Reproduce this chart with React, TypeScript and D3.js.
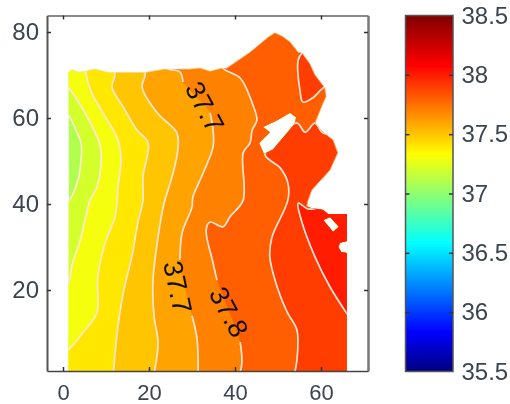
import React, { useEffect, useRef } from 'react';
import * as d3 from 'd3';

type Pt = [number, number] | null;

// outline of the sampled area, x / y in axis units
const domainOutline: Pt[] = [
  [1.3, 1], [1.3, 70.7], [2.1, 71.3], [3.5, 70.7], [5.3, 70.9], [7.4, 71.4], [10.5, 70.6], [19.1, 70.6],
  [23.7, 71.4], [29.5, 71.4], [31.9, 71.6], [34.2, 70.9], [37, 71.6], [38.1, 71.6], [43.5, 75.3], [47.7, 78.8],
  [49.3, 79.8], [51, 79], [52.8, 77.7], [54.7, 75.3], [55.6, 75.1], [57.4, 72.6], [58.6, 70], [60.9, 67], [61.2, 65], [60.5, 63.5], [58.6, 58.8],
  [60.5, 56.7], [62.8, 54.9], [63.9, 51.9], [62.1, 47.9], [60, 45.6], [57.9, 43.3], [57, 40.9], [56.7, 39.5], [57.4, 39.1],
  [60.5, 38.6], [61.6, 37.7], [66, 37.7], [66, 31.4], [64.4, 31], [64, 30], [64.7, 28.8], [66, 28.6], [66, 1],
];
const lakeHole: Pt[] = [
  [54.2, 60.2], [52.8, 61.2], [49.8, 59.5], [46.5, 57.9], [48.1, 56.7], [47, 55.6], [45.6, 54.2], [46.7, 51.6],
  [48.8, 52.6], [52.1, 56.5], [54, 58.8],
];
const diamondHole: Pt[] = [[60.5, 36.3], [62.1, 37], [64.2, 34.7], [62.8, 33.5]];

const baseLevel = 37.1;
const levels = [37.2, 37.3, 37.4, 37.5, 37.6, 37.7, 37.8, 37.9, 38];

// contour lines, null = gap where a label sits
const contour372: Pt[] = [[-0.7, 61.9], [1.2, 60.7], [3, 57.2], [4.2, 54.2], [4.2, 50.2], [3.5, 45.6], [1.4, 40.9], [-0.7, 39.8]];
const contour373: Pt[] = [
  [-0.7, 68.8], [1.2, 67.2], [4.7, 61.9], [8.6, 53.7], [8.8, 48.6], [7.9, 44], [6.3, 40.9], [5.3, 37], [4, 31.6],
  [2.1, 25.8], [1.2, 21.2], [-0.7, 18.8],
];
const contour374: Pt[] = [
  [5.3, 73.5], [5.3, 70.7], [6.7, 65.8], [9.3, 61.2], [12.8, 54.9], [13.5, 50.2], [12.8, 44], [12.6, 40.9],
  [12.1, 37], [9.8, 30.9], [8.1, 23], [7.9, 14.7], [4.7, 10.2], [1.2, 6], [-0.7, 4.7],
];
const contour375: Pt[] = [
  [12.1, 73.5], [12.1, 70], [11.4, 67.2], [14, 62.6], [17.2, 57.2], [19.8, 54.2], [18.6, 46.3], [18.6, 40.9],
  [17.4, 35.6], [16, 27.7], [14, 19.3], [12.6, 10], [11.6, -0.9],
];
const contour376: Pt[] = [
  [19.1, 73.5], [19.1, 70], [18.4, 67.2], [21.9, 61.2], [26.5, 56.5], [26.7, 52.6], [25.6, 47.2], [23.7, 40.9],
  [23.3, 39.3], [21.9, 30.9], [20.9, 21.6], [21.2, 13.7], [22.1, 7.7], [20.9, -0.9],
];
const contour377: Pt[] = [
  [24.2, 73.5], [24.2, 71.6], [27.2, 70.7], [27.9, 68.4], null, [34.2, 61.2], [34.9, 57.2], [34.9, 53.3],
  [32.6, 47.2], [30.2, 41.6], [30, 39.3], [27.7, 33.3], [27.2, 27], null, [30, 14], [31.2, 8.4], [31.4, -0.9],
];
const contour378: Pt[] = [
  [37.2, 73.5], [37.2, 71.6], [41.2, 69.3], [44, 63.5], [45.1, 59.5], [44, 57.2], [43.5, 54.2], [41.9, 51.9],
  [41.9, 40.9], [38.8, 37], [37.2, 34.7], [34.2, 35.8], [33.3, 34], [34.9, 26.3], [35.8, 22.3], null,
  [41.2, 7.9], [41.6, 3], [40.7, -0.9],
];
const contour379: Pt[] = [
  [65.6, 56.3], [60.5, 56.5], [58.6, 58.8], [56.3, 56.7], [54.4, 58.8], [49.3, 54.9], [47, 51.4], [50.5, 48.4],
  [52.3, 44.9], [52.3, 40.9], [48.6, 32.3], [48.1, 27.7], [49.8, 20.7], [52.1, 14.9], [54.4, 10.7], [54.4, 3.7],
  [53.5, -0.9],
];
const contour380: Pt[] = [
  [69.1, 43.3], [57.4, 38.8], [54.7, 40.2], [55.3, 36.7], [58.6, 27.7], [62.1, 20.7], [66.7, 13.5],
];
// small closed patch in the north
const patch379: Pt[] = [
  [64.4, 78.1], [55.6, 75.1], [54.7, 73.5], [55.1, 66.5], [55.8, 63.7], [58.1, 64.7], [60.5, 67], [64.4, 68.8],
];
const contours = [contour372, contour373, contour374, contour375, contour376, contour377, contour378, contour379, contour380];

const labelText = ['37.7', '37.7', '37.8'];
const labelX = [33, 26.7, 38.6];
const labelY = [62.6, 20.7, 14.9];
const labelAngle = [62, 78, 62];

const xTicks = [0, 20, 40, 60];
const yTicks = [20, 40, 60, 80];
const barLabels = [35.5, 36, 36.5, 37, 37.5, 38, 38.5];
const barMarks = [36, 36.5, 37, 37.5, 38];

// jet colormap
const jetStops = [0, 0.11, 0.36, 0.61, 0.86, 1];
const jetColors = ['#000080', '#0000ff', '#00ffff', '#ffff00', '#ff0000', '#800000'];

const FONT = '"Liberation Sans", Arial, sans-serif';
const TEXT = '#3b4450';

const App = () => {
  const ref = useRef<SVGSVGElement>(null);

  useEffect(() => {
    const svg = d3.select(ref.current);
    svg.selectAll('*').remove();

    const left = 47, right = 368, top = 15.5, bottom = 371;
    const barLeft = 405.5, barRight = 453;

    const x = d3.scaleLinear().domain([0, 60]).range([63, 321]);
    const y = d3.scaleLinear().domain([20, 80]).range([290, 32]);
    const bar = d3.scaleLinear().domain([35.5, 38.5]).range([371.5, 15.5]);
    const jet = d3.scaleLinear<string>().domain(jetStops).range(jetColors);
    const colorOf = (v: number) => jet((v - 35.5) / 3);

    const line = d3.line<Pt>().defined((d) => d !== null).x((d) => x(d![0])).y((d) => y(d![1]));
    const smooth = d3.line<Pt>().defined((d) => d !== null).x((d) => x(d![0])).y((d) => y(d![1])).curve(d3.curveCatmullRom.alpha(0.5));
    const solid = (pts: Pt[]) => pts.filter((d) => d !== null);
    const ring = (pts: Pt[]) => line(pts) + 'Z';

    const defs = svg.append('defs');
    defs
      .append('clipPath')
      .attr('id', 'area')
      .append('path')
      .attr('clip-rule', 'evenodd')
      .attr('d', ring(domainOutline) + ring(lakeHole) + ring(diamondHole));
    const grad = defs
      .append('linearGradient')
      .attr('id', 'jet')
      .attr('x1', 0)
      .attr('y1', 1)
      .attr('x2', 0)
      .attr('y2', 0);
    jetStops.forEach((s, i) => {
      grad.append('stop').attr('offset', s).attr('stop-color', jetColors[i]);
    });
    const soft = defs
      .append('filter')
      .attr('id', 'soft')
      .attr('filterUnits', 'userSpaceOnUse')
      .attr('x', 0)
      .attr('y', 0)
      .attr('width', 510)
      .attr('height', 404);
    soft.append('feGaussianBlur').attr('stdDeviation', 0.45);

    const root = svg.append('g').attr('filter', 'url(#soft)');
    const map = root.append('g').attr('clip-path', 'url(#area)');

    map.append('path').attr('d', ring(domainOutline)).attr('fill', colorOf(baseLevel));

    // each band paints everything to the right of its contour
    const bottomY = -10, topY = 100, farX = 90;
    contours.forEach((c, i) => {
      const pts = solid(c) as [number, number][];
      const first = pts[0];
      const last = pts[pts.length - 1];
      const edge = smooth(pts) as string;
      const corners: Pt[] = [[last[0], bottomY], [farX, bottomY], [farX, topY], [first[0], topY]];
      map.append('path').attr('d', edge + 'L' + (line(corners) as string).slice(1) + 'Z').attr('fill', colorOf(levels[i]));
    });
    map.append('path').attr('d', smooth(patch379) + 'Z').attr('fill', colorOf(37.9));

    [...contours, patch379].forEach((c) => {
      map
        .append('path')
        .attr('d', smooth(c))
        .attr('fill', 'none')
        .attr('stroke', '#ffe6d8')
        .attr('stroke-width', 1.7);
    });

    // pale rim where the field meets the white page
    root
      .append('path')
      .attr('d', line(domainOutline.slice(1, 35)))
      .attr('fill', 'none')
      .attr('stroke', '#ffdcc8')
      .attr('stroke-opacity', 0.6)
      .attr('stroke-width', 1);

    labelText.forEach((t, i) => {
      root
        .append('text')
        .attr('transform', `translate(${x(labelX[i])},${y(labelY[i])}) rotate(${labelAngle[i]})`)
        .attr('text-anchor', 'middle')
        .attr('dy', '0.35em')
        .attr('font-family', FONT)
        .attr('font-size', 27)
        .attr('fill', '#111')
        .text(t);
    });

    const axisStyle = (g: any, color: string, width: number, size = 24) => {
      g.select('.domain').attr('stroke', color).attr('stroke-width', width);
      g.selectAll('.tick line').attr('stroke', '#333').attr('stroke-width', 1.5);
      g.selectAll('text').attr('font-family', FONT).attr('font-size', size).attr('fill', TEXT);
    };
    const noLabel = () => '';
    const xFull = d3.scaleLinear().domain([x.invert(left), x.invert(right)]).range([left, right]);
    const yFull = d3.scaleLinear().domain([y.invert(bottom), y.invert(top)]).range([bottom, top]);

    root
      .append('g')
      .attr('transform', `translate(0,${top})`)
      .call(d3.axisTop(xFull).tickValues(xTicks).tickSizeInner(-4).tickSizeOuter(0).tickFormat(noLabel))
      .call(axisStyle, '#8a8a8a', 2);
    root
      .append('g')
      .attr('transform', `translate(${right},0)`)
      .call(d3.axisRight(yFull).tickValues(yTicks).tickSizeInner(-4).tickSizeOuter(0).tickFormat(noLabel))
      .call(axisStyle, '#777', 2.5);
    root
      .append('g')
      .attr('transform', `translate(0,${bottom})`)
      .call(d3.axisBottom(xFull).tickValues(xTicks).tickSizeInner(-4).tickPadding(13).tickSizeOuter(0))
      .call(axisStyle, '#444', 1.5, 22);
    root
      .append('g')
      .attr('transform', `translate(${left},0)`)
      .call(d3.axisLeft(yFull).tickValues(yTicks).tickSizeInner(-4).tickPadding(8).tickSizeOuter(0))
      .call(axisStyle, '#555', 2);

    // colorbar
    root
      .append('rect')
      .attr('x', barLeft)
      .attr('y', bar(38.5))
      .attr('width', barRight - barLeft)
      .attr('height', bar(35.5) - bar(38.5))
      .attr('fill', 'url(#jet)')
      .attr('stroke', '#555')
      .attr('stroke-width', 1.5);
    root
      .append('g')
      .attr('transform', `translate(${barLeft},0)`)
      .call(d3.axisLeft(bar).tickValues(barMarks).tickSizeInner(-4).tickSizeOuter(0).tickFormat(noLabel))
      .call(axisStyle, 'none', 0);
    root
      .append('g')
      .attr('transform', `translate(${barRight},0)`)
      .call(d3.axisRight(bar).tickValues(barMarks).tickSizeInner(-4).tickSizeOuter(0).tickFormat(noLabel))
      .call(axisStyle, 'none', 0);
    root
      .append('g')
      .attr('transform', `translate(${barRight},0)`)
      .call(d3.axisRight(bar).tickValues(barLabels).tickSizeInner(0).tickPadding(8.5).tickSizeOuter(0).tickFormat((d) => String(d)))
      .call(axisStyle, 'none', 0);
  }, []);

  return (
    <svg
      ref={ref}
      width={510}
      height={404}
      style={{ position: 'absolute', left: 0, top: 0, background: '#fff' }}
    />
  );
};

export default App;
